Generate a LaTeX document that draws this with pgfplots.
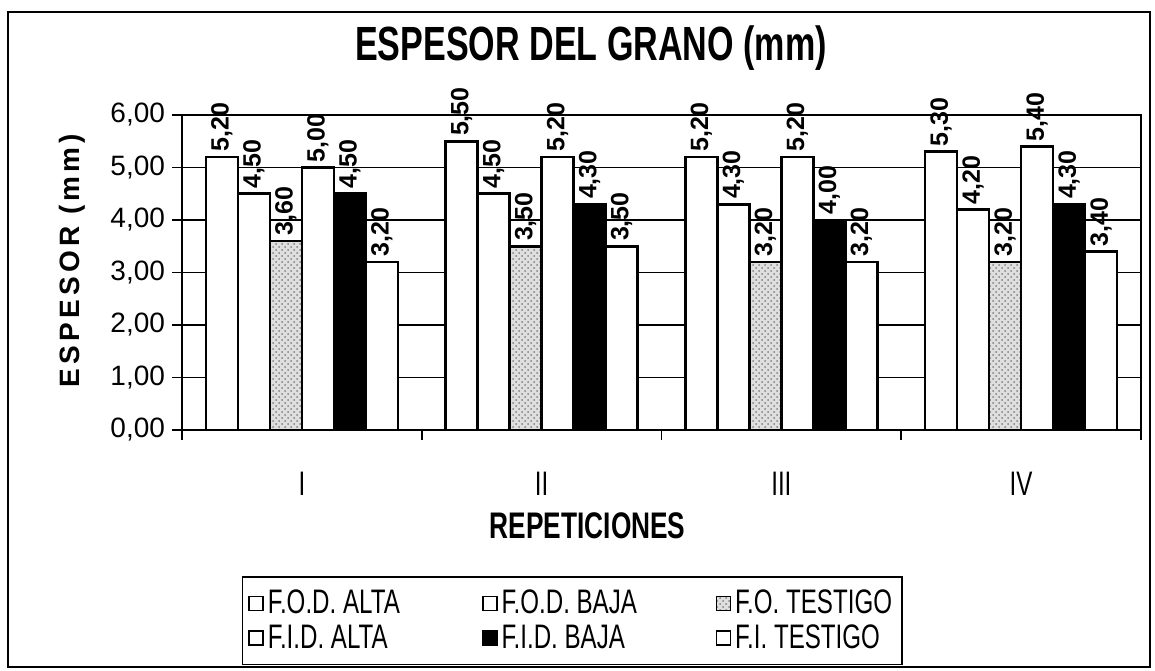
\documentclass[border=0pt]{standalone}
\usepackage{fontspec}
\setmainfont{Liberation Sans}
\newfontfamily\xcond{Liberation Sans}[FakeStretch=0.71]
\usepackage{pgfplots}
\pgfplotsset{compat=1.18}
\usetikzlibrary{patterns}

\pgfplotstableread{
rep fodalta fodbaja fotest fidalta fidbaja fitest
0   5.20    4.50    3.60   5.00    4.50    3.20
1   5.50    4.50    3.50   5.20    4.30    3.50
2   5.20    4.30    3.20   5.20    4.00    3.20
3   5.30    4.20    3.20   5.40    4.30    3.40
}\espesor

\begin{document}
\begin{tikzpicture}
\path[use as bounding box] (-91pt,-120pt) rectangle (486.5pt,215pt);
\draw[line width=0.8pt] (-87pt,-118.5pt) rectangle (484pt,209pt);
\begin{axis}[
    at={(0pt,0pt)}, anchor=south west,
    width=479.5pt, height=157.5pt, scale only axis,
    ybar=0pt, bar width=16pt,
    xmin=-0.5, xmax=3.5,
    ymin=0, ymax=6, ytick={0,1,...,6},
    xtick={-0.5,0.5,1.5,2.5,3.5}, xticklabels={},
    extra x ticks={0,1,2,3},
    extra x tick labels={I,II,III,IV},
    extra x tick style={xtick style={draw=none},
        xticklabel style={font=\xcond\fontsize{17}{17}\selectfont, yshift=-12.5pt}},
    tick align=outside, tick pos=left,
    major tick length=5pt,
    tick style={black, line width=0.8pt},
    axis line style={line width=1pt},
    ymajorgrids, grid style={black, line width=0.7pt},
    /pgf/number format/.cd, use comma, fixed, fixed zerofill, precision=2,
        assume math mode=true,
    /pgfplots/.cd,
    yticklabel style={font=\fontsize{14}{14}\selectfont},
    title={ESPESOR DEL GRANO (mm)},
    title style={at={(axis description cs:0.4265,1)}, anchor=base,
        yshift=21.5pt, font=\xcond\bfseries\fontsize{24}{24}\selectfont},
    xlabel={REPETICIONES},
    xlabel style={at={(axis description cs:0.423,0)}, anchor=base,
        yshift=-54pt, font=\xcond\bfseries\fontsize{18.5}{18.5}\selectfont},
    ylabel={ESPESOR (mm)},
    ylabel style={at={(axis description cs:-0.1147,0.538)}, anchor=center,
        font=\bfseries\fontsize{14}{14}\selectfont\addfontfeature{LetterSpace=15}},
    nodes near coords,
    every node near coord/.append style={rotate=90, anchor=west,
        font=\bfseries\fontsize{12.5}{12.5}\selectfont, inner sep=2pt},
    legend columns=3,
    legend style={at={(axis description cs:0.0622,-0.465)}, anchor=north west,
        draw=black, line width=0.7pt, font=\xcond\fontsize{17}{15}\selectfont,
        inner xsep=3pt, inner ysep=4.5pt, row sep=0pt,
        /tikz/every even column/.append style={column sep=8pt}},
    legend cell align=left,
    legend image code/.code={\draw[#1, line width=0.8pt] (0pt,-3.5pt) rectangle (7pt,3.5pt);},
]
\addplot[draw=black, line width=1.3pt, fill=white] table[x=rep, y=fodalta] {\espesor};
\addlegendentry{\makebox[97pt][l]{F.O.D. ALTA}}
\addplot[draw=black, line width=1.3pt, fill=white] table[x=rep, y=fodbaja] {\espesor};
\addlegendentry{\makebox[97pt][l]{F.O.D. BAJA}}
\addplot[draw=black, line width=1.3pt, fill=gray!25,
    postaction={pattern=crosshatch dots, pattern color=black!50}] table[x=rep, y=fotest] {\espesor};
\addlegendentry{F.O. TESTIGO}
\addplot[draw=black, line width=1.3pt, fill=white] table[x=rep, y=fidalta] {\espesor};
\addlegendentry{\makebox[97pt][l]{F.I.D. ALTA}}
\addplot[draw=black, line width=1.3pt, fill=black] table[x=rep, y=fidbaja] {\espesor};
\addlegendentry{\makebox[97pt][l]{F.I.D. BAJA}}
\addplot[draw=black, line width=1.3pt, fill=white] table[x=rep, y=fitest] {\espesor};
\addlegendentry{F.I. TESTIGO}
\end{axis}
\end{tikzpicture}
\end{document}
